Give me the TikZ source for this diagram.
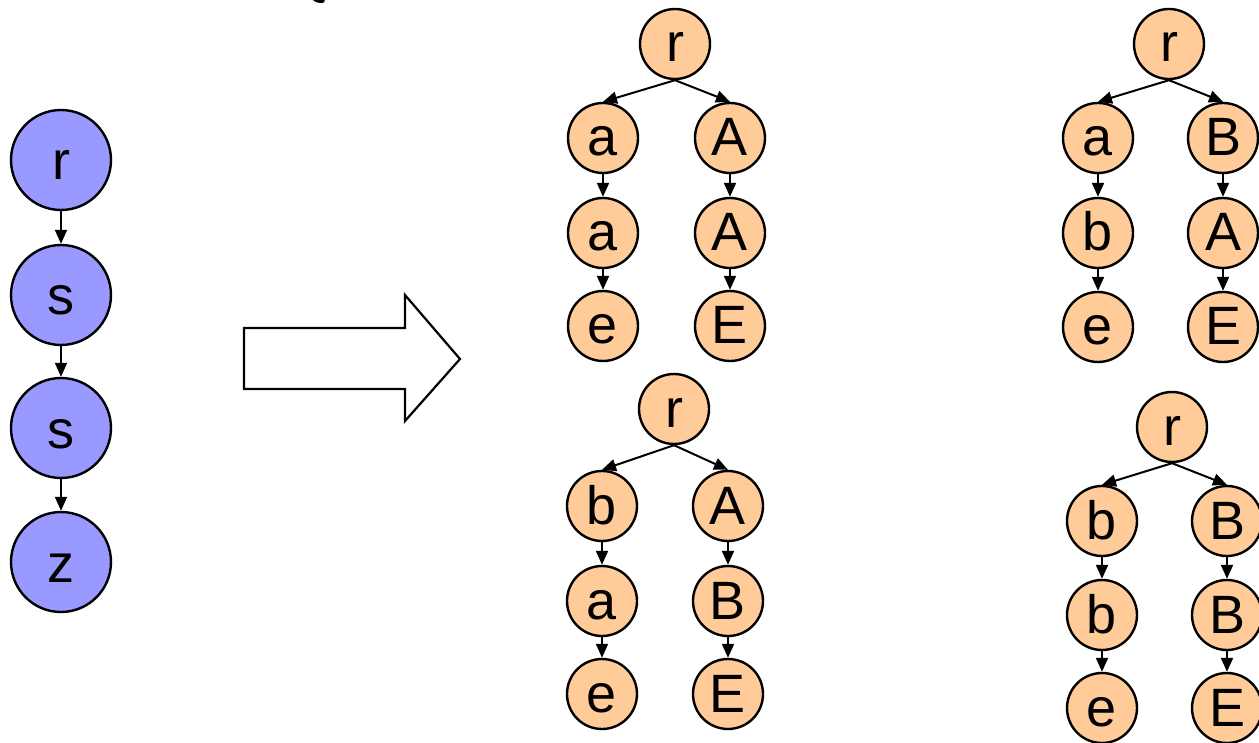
\documentclass[tikz,border=0pt]{standalone}
\usepackage{fontspec}
\setmainfont{Liberation Sans}
\usetikzlibrary{arrows.meta}
\definecolor{nodeblue}{HTML}{9999FF}
\definecolor{nodeorange}{HTML}{FFCC99}
\begin{document}
\begin{tikzpicture}[x=1pt,y=-1pt,
  bnode/.style={circle,draw=black,line width=2.4pt,fill=nodeblue,minimum size=100pt,inner sep=0pt,
    font=\fontsize{54}{60}\selectfont,text height=40pt,text depth=0pt},
  onode/.style={circle,draw=black,line width=2.4pt,fill=nodeorange,minimum size=70pt,inner sep=0pt,
    font=\fontsize{54}{60}\selectfont,text height=36pt,text depth=0pt},
  conn/.style={line width=2pt,-{Triangle[length=14pt,width=12pt]}},
  bigarrow/.style={draw=black,line width=2.2pt,fill=white,line join=miter},
]
\useasboundingbox (0,0) rectangle (1259,743);
% cropped fragment at top edge
\fill[rotate around={-20:(318,-1)}] (318,-1) ellipse (7pt and 3.5pt);

% left chain
\node[bnode] (b1) at (61,160) {r};
\node[bnode] (b2) at (61,295) {s};
\node[bnode] (b3) at (61,428) {s};
\node[bnode] (b4) at (61,562) {z};
\draw[conn] (b1) -- (b2);
\draw[conn] (b2) -- (b3);
\draw[conn] (b3) -- (b4);

% big arrow
\draw[bigarrow] (244,328) -- (405,328) -- (405,295) -- (460,359) -- (405,421) -- (405,389) -- (244,389) -- cycle;

% tree 1
\node[onode] (t1r) at (675,44) {r};
\node[onode] (t1a) at (603,138) {a};
\node[onode] (t1b) at (603,233) {a};
\node[onode] (t1c) at (603,326) {e};
\node[onode] (t1A) at (730,138) {A};
\node[onode] (t1B) at (730,233) {A};
\node[onode] (t1C) at (730,326) {E};
\draw[conn] (t1r.south) -- (t1a.north);
\draw[conn] (t1r.south) -- (t1A.north);
\draw[conn] (t1a) -- (t1b);
\draw[conn] (t1b) -- (t1c);
\draw[conn] (t1A) -- (t1B);
\draw[conn] (t1B) -- (t1C);

% tree 2
\node[onode] (t2r) at (1169,44) {r};
\node[onode] (t2a) at (1098,138) {a};
\node[onode] (t2b) at (1098,233) {b};
\node[onode] (t2c) at (1098,327) {e};
\node[onode] (t2A) at (1223,138) {B};
\node[onode] (t2B) at (1223,233) {A};
\node[onode] (t2C) at (1223,327) {E};
\draw[conn] (t2r.south) -- (t2a.north);
\draw[conn] (t2r.south) -- (t2A.north);
\draw[conn] (t2a) -- (t2b);
\draw[conn] (t2b) -- (t2c);
\draw[conn] (t2A) -- (t2B);
\draw[conn] (t2B) -- (t2C);

% tree 3
\node[onode] (t3r) at (674,409) {r};
\node[onode] (t3a) at (602,506) {b};
\node[onode] (t3b) at (602,601) {a};
\node[onode] (t3c) at (602,694) {e};
\node[onode] (t3A) at (728,506) {A};
\node[onode] (t3B) at (728,601) {B};
\node[onode] (t3C) at (728,694) {E};
\draw[conn] (t3r.south) -- (t3a.north);
\draw[conn] (t3r.south) -- (t3A.north);
\draw[conn] (t3a) -- (t3b);
\draw[conn] (t3b) -- (t3c);
\draw[conn] (t3A) -- (t3B);
\draw[conn] (t3B) -- (t3C);

% tree 4
\node[onode] (t4r) at (1172,427) {r};
\node[onode] (t4a) at (1102,521) {b};
\node[onode] (t4b) at (1102,615) {b};
\node[onode] (t4c) at (1102,708) {e};
\node[onode] (t4A) at (1227,521) {B};
\node[onode] (t4B) at (1227,615) {B};
\node[onode] (t4C) at (1227,708) {E};
\draw[conn] (t4r.south) -- (t4a.north);
\draw[conn] (t4r.south) -- (t4A.north);
\draw[conn] (t4a) -- (t4b);
\draw[conn] (t4b) -- (t4c);
\draw[conn] (t4A) -- (t4B);
\draw[conn] (t4B) -- (t4C);
\end{tikzpicture}
\end{document}
